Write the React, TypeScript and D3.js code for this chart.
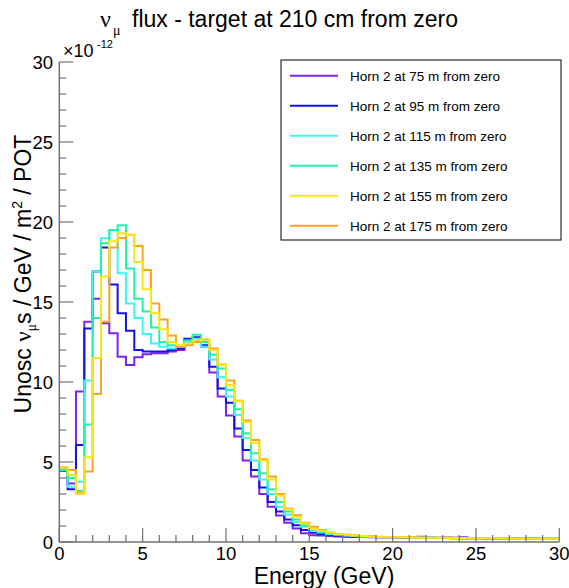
import React from "react";
import * as d3 from "d3";

const BIN_WIDTH = 0.5;
const X_TICKS = [0, 5, 10, 15, 20, 25, 30];
const Y_TICKS = [0, 5, 10, 15, 20, 25, 30];

const seriesNames = [
  "Horn 2 at 75 m from zero",
  "Horn 2 at 95 m from zero",
  "Horn 2 at 115 m from zero",
  "Horn 2 at 135 m from zero",
  "Horn 2 at 155 m from zero",
  "Horn 2 at 175 m from zero",
];

const h75 = [4.5,3.65,9.4,13.77,15.2,13.67,13.04,11.58,11.06,11.54,11.73,11.8,11.8,11.9,12.0,12.4,12.5,12.2,10.6,9.1,7.9,6.6,5.1,4.1,3.0,2.2,1.65,1.2,0.85,0.55,0.42,0.4,0.38,0.35,0.33,0.32,0.38,0.3,0.3,0.28,0.27,0.3,0.28,0.33,0.28,0.25,0.28,0.24,0.3,0.22,0.25,0.22,0.24,0.2,0.24,0.2,0.22,0.2,0.18,0.2];
const h95 = [4.45,3.3,6.06,13.35,16.9,18.4,16.1,14.3,13.2,12.0,11.9,11.9,11.9,12.0,12.1,12.7,12.8,12.3,10.95,9.6,8.7,7.1,5.75,4.5,3.4,2.5,1.9,1.4,1.05,0.75,0.58,0.5,0.45,0.4,0.36,0.35,0.33,0.32,0.3,0.3,0.28,0.27,0.28,0.3,0.26,0.26,0.25,0.27,0.24,0.25,0.23,0.24,0.22,0.22,0.23,0.21,0.2,0.21,0.2,0.19];
const h115 = [4.5,3.45,3.77,10.1,16.9,18.98,19.5,16.8,14.9,14.0,13.0,12.4,12.2,12.1,12.2,12.5,12.7,12.2,11.4,10.3,9.1,7.94,6.5,5.1,3.9,3.0,2.2,1.7,1.25,0.95,0.72,0.6,0.5,0.45,0.4,0.37,0.35,0.33,0.3,0.3,0.28,0.28,0.27,0.26,0.28,0.25,0.25,0.26,0.24,0.23,0.24,0.23,0.22,0.22,0.21,0.22,0.2,0.2,0.2,0.19];
const h135 = [4.5,4.0,3.2,7.35,14.0,18.67,19.5,19.8,17.1,15.2,14.4,13.4,12.5,12.3,12.2,12.6,12.95,12.5,11.7,10.85,9.5,8.3,6.8,5.54,4.3,3.3,2.5,1.9,1.4,1.05,0.8,0.65,0.55,0.48,0.42,0.38,0.35,0.34,0.31,0.3,0.3,0.29,0.27,0.28,0.26,0.27,0.25,0.25,0.24,0.24,0.23,0.22,0.23,0.22,0.21,0.21,0.2,0.2,0.2,0.2];
const h155 = [4.65,4.19,3.0,5.3,11.5,16.6,18.8,19.3,19.2,17.5,15.8,14.3,13.3,12.5,12.3,12.4,12.6,12.66,12.0,11.06,9.8,8.8,7.5,6.2,5.1,3.9,2.9,2.05,1.6,1.15,0.82,0.7,0.6,0.5,0.45,0.4,0.37,0.34,0.32,0.3,0.3,0.29,0.28,0.27,0.27,0.26,0.26,0.25,0.25,0.24,0.24,0.23,0.23,0.22,0.22,0.21,0.21,0.2,0.2,0.2];
const h175 = [4.65,4.5,3.1,4.4,9.25,13.77,18.4,19.0,19.2,18.5,17.0,14.9,13.9,12.9,12.25,12.3,12.5,12.66,12.1,11.1,10.1,8.83,7.6,6.38,5.17,4.1,3.0,2.1,1.69,1.21,0.96,0.75,0.58,0.5,0.45,0.42,0.38,0.35,0.33,0.32,0.3,0.3,0.29,0.28,0.27,0.27,0.26,0.26,0.25,0.25,0.24,0.24,0.23,0.23,0.22,0.22,0.21,0.21,0.2,0.2];

const seriesValues = [h75, h95, h115, h135, h155, h175];
const seriesColors = ["#7b22f5", "#1414e6", "#3cf5f5", "#1ef5a8", "#fae614", "#faa51e"];
// drawing order (last on top)
const drawOrder = [0, 1, 2, 3, 5, 4];

const W = 569;
const H = 588;
const L = 59.3, R = 559.3, T = 62, B = 542;
const FONT = "Liberation Sans, Arial, Helvetica, sans-serif";
const SERIF = "Liberation Serif, Times New Roman, serif";

export default function App() {
  const x = d3.scaleLinear().domain([0, 30]).range([L, R]);
  const y = d3.scaleLinear().domain([0, 30]).range([B, T]);

  const line = d3
    .line<[number, number]>()
    .x((d) => x(d[0]))
    .y((d) => y(d[1]))
    .curve(d3.curveStepAfter);

  const pathFor = (vals: number[]) => {
    const pts: [number, number][] = vals.map((v, i) => [i * BIN_WIDTH, v]);
    pts.push([vals.length * BIN_WIDTH, vals[vals.length - 1]]);
    return line(pts) || "";
  };

  const xMinor = d3.range(0, 31, 1);
  const yMinor = d3.range(0, 31, 1);
  const axisColor = "#707070";

  return (
    <svg width={W} height={H} style={{ position: "absolute", left: 0, top: 0, background: "#fff" }}>
      <rect x={0} y={0} width={W} height={H} fill="#fff" />
      {/* Title */}
      <text x={100} y={27} fontFamily={SERIF} fontSize={24} fill="#000">ν</text>
      <text x={113} y={35} fontFamily={SERIF} fontSize={14} fill="#000">μ</text>
      <text x={132} y={27} fontFamily={FONT} fontSize={23} fill="#000">flux - target at 210 cm from zero</text>

      {/* histograms */}
      {drawOrder.map((i) => (
        <path key={i} d={pathFor(seriesValues[i])} fill="none" stroke={seriesColors[i]} strokeWidth={2} />
      ))}

      {/* axes */}
      <line x1={L} x2={L} y1={T} y2={B} stroke={axisColor} strokeWidth={1.5} />
      <line x1={L} x2={R} y1={B} y2={B} stroke={axisColor} strokeWidth={1.5} />
      {yMinor.map((v) => (
        <line key={"ym" + v} x1={L} x2={L + (v % 5 === 0 ? 14 : 7)} y1={y(v)} y2={y(v)} stroke={axisColor} strokeWidth={1.2} />
      ))}
      {xMinor.map((v) => (
        <line key={"xm" + v} x1={x(v)} x2={x(v)} y1={B} y2={B - (v % 5 === 0 ? 14 : 7)} stroke={axisColor} strokeWidth={1.2} />
      ))}
      {Y_TICKS.map((v) => (
        <text key={"yl" + v} x={53} y={y(v) + 6.6} textAnchor="end" fontFamily={FONT} fontSize={18.5} fill="#000">{v}</text>
      ))}
      {X_TICKS.map((v) => (
        <text key={"xl" + v} x={x(v)} y={560} textAnchor="middle" fontFamily={FONT} fontSize={18.5} fill="#000">{v}</text>
      ))}
      {/* exponent */}
      <text x={63} y={57} fontFamily={FONT} fontSize={18} fill="#000">×10</text>
      <text x={97} y={48} fontFamily={FONT} fontSize={11} fill="#000">-12</text>

      {/* axis titles */}
      <text x={324} y={584} textAnchor="middle" fontFamily={FONT} fontSize={23} fill="#000">Energy (GeV)</text>
      <g transform="translate(31,274) rotate(-90)">
        <text textAnchor="middle" fontFamily={FONT} fontSize={23} fill="#000">
          <tspan>Unosc </tspan>
          <tspan fontFamily={SERIF}>ν</tspan>
          <tspan fontFamily={SERIF} fontSize={14} dy={5}>μ</tspan>
          <tspan dy={-5}>s / GeV / m</tspan>
          <tspan fontSize={14} dy={-9}>2</tspan>
          <tspan dy={9}> / POT</tspan>
        </text>
      </g>

      {/* legend */}
      <rect x={281} y={60} width={280} height={180} fill="#fff" stroke="#000" strokeWidth={1} />
      {seriesNames.map((n, i) => (
        <g key={n}>
          <line x1={290} x2={338} y1={75.7 + i * 30} y2={75.7 + i * 30} stroke={seriesColors[i]} strokeWidth={2} />
          <text x={350} y={75.7 + i * 30 + 5} fontFamily={FONT} fontSize={13.5} fill="#000">{n}</text>
        </g>
      ))}
    </svg>
  );
}
